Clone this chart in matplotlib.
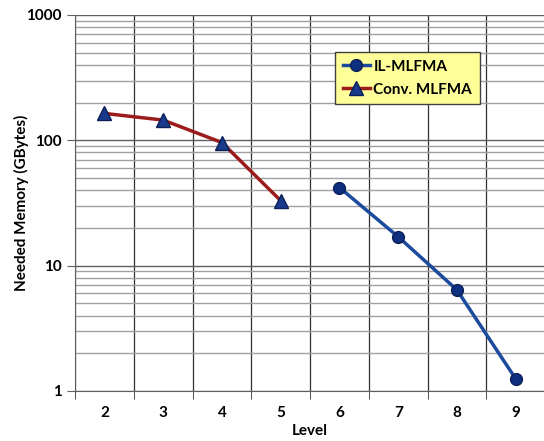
import matplotlib.pyplot as plt
import numpy as np

# data
levels_conv = [2, 3, 4, 5]
mem_conv = [164, 145, 96, 33]
levels_il = [6, 7, 8, 9]
mem_il = [42, 17, 6.4, 1.25]
xticks = [2, 3, 4, 5, 6, 7, 8, 9]

plt.rcParams['font.family'] = ['Lato', 'DejaVu Sans']
plt.rcParams['font.weight'] = 'bold'

fig = plt.figure(figsize=(5.44, 4.41), dpi=100)
ax = fig.add_axes([0.138, 0.1134, 0.864, 0.8526])

ax.set_yscale('log')
ax.set_ylim(1, 1000)
ax.set_xlim(1.5, 9.5)

# grid: gray minor horizontals, black category separators
ax.set_yticks([1, 10, 100, 1000])
ax.set_yticklabels(['1', '10', '100', '1000'])
ax.yaxis.set_minor_locator(plt.LogLocator(base=10, subs=np.arange(2, 10)))
ax.yaxis.set_minor_formatter(plt.NullFormatter())
ax.grid(which='minor', axis='y', color='#a0a0a0', lw=1.0)
ax.grid(which='major', axis='y', color='#606060', lw=1.0)

ax.set_xticks(xticks)
ax.set_xticks(np.arange(1.5, 10, 1), minor=True)
ax.grid(which='minor', axis='x', color='#303030', lw=0.9)
ax.tick_params(axis='x', which='major', length=0, labelsize=11, pad=11)
ax.tick_params(axis='x', which='minor', length=6, color='#303030')
ax.tick_params(axis='y', which='major', length=6, color='#606060', labelsize=11)
ax.tick_params(axis='y', which='minor', length=0)
ax.set_axisbelow(True)

for s in ['top', 'right']:
    ax.spines[s].set_visible(False)
ax.spines['left'].set_color('#606060')
ax.spines['bottom'].set_color('#606060')

ax.plot(levels_il, mem_il, '-o', color='#1c4a9c', lw=2.5, ms=8.5,
        mfc='#0f2f80', mec='#0a1f55', mew=1, label='IL-MLFMA')
ax.plot(levels_conv, mem_conv, '-^', color='#9c1c1c', lw=2.5, ms=9.5,
        mfc='#1a3a8c', mec='#0a1f55', mew=1, label='Conv. MLFMA')

ax.set_xlabel('Level', fontsize=11, fontweight='bold', labelpad=3)
ax.set_ylabel('Needed Memory (GBytes)', fontsize=11, fontweight='bold',
              labelpad=-2)

leg = ax.legend(loc='upper left', bbox_to_anchor=(0.537, 0.922), fontsize=11,
                frameon=True, fancybox=False, handlelength=1.8,
                borderpad=0.5, labelspacing=0.6, handletextpad=0.2)
leg.get_frame().set_facecolor('#ffff99')
leg.get_frame().set_edgecolor('#404040')
leg.get_frame().set_alpha(1)

fig.savefig('out.png', dpi=100)
